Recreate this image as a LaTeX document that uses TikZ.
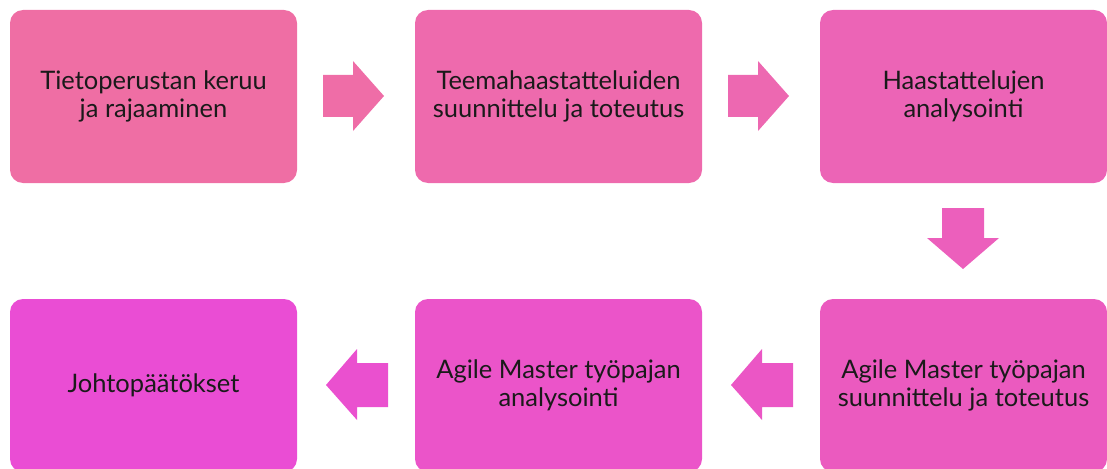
\documentclass[tikz,border=0pt]{standalone}
\usepackage{fontspec}
\setmainfont{Lato}
\definecolor{cA}{HTML}{EF6EA4}
\definecolor{cAa}{HTML}{EF6DA7}
\definecolor{cB}{HTML}{EE6AAD}
\definecolor{cBa}{HTML}{ED68B1}
\definecolor{cC}{HTML}{EC64B6}
\definecolor{cCa}{HTML}{EC5FBC}
\definecolor{cD}{HTML}{EB5ABF}
\definecolor{cDa}{HTML}{EB56C5}
\definecolor{cE}{HTML}{EB54C9}
\definecolor{cEa}{HTML}{EA50CF}
\definecolor{cF}{HTML}{EA4DD4}
\definecolor{txt}{HTML}{1A1A1A}
\tikzset{
  stagebox/.style={rounded corners=13pt, minimum width=287pt, minimum height=173pt,
    inner sep=0pt, align=center, text=txt, font=\fontsize{25.5}{28.5}\selectfont},
}
\begin{document}
\begin{tikzpicture}[x=1pt,y=-1pt]
\useasboundingbox (0,0) rectangle (1107,468);
\node[stagebox, fill=cA] (b1) at (153.5,96.5) {Tietoperustan keruu\\ja rajaaminen};
\node[stagebox, fill=cB] (b2) at (558.5,96.5) {Teemahaastatteluiden\\suunnittelu ja toteutus};
\node[stagebox, fill=cC] (b3) at (963.5,96.5) {Haastattelujen\\analysointi};
\node[stagebox, fill=cD] (b6) at (963.5,385.5) {Agile Master työpajan\\suunnittelu ja toteutus};
\node[stagebox, fill=cE] (b5) at (558.5,385.5) {Agile Master työpajan\\analysointi};
\node[stagebox, fill=cF] (b4) at (153.5,385.5) {Johtopäätökset};
% right arrows
\fill[cAa] (323,75) -- (353,75) -- (353,61) -- (384,96) -- (353,131) -- (353,117) -- (323,117) -- cycle;
\fill[cBa] (728,75) -- (758,75) -- (758,61) -- (789,96) -- (758,131) -- (758,117) -- (728,117) -- cycle;
% down arrow
\fill[cCa] (942,208) -- (984,208) -- (984,238) -- (999,238) -- (963,269) -- (927,238) -- (942,238) -- cycle;
% left arrows
\fill[cDa] (793,363) -- (762,363) -- (762,349) -- (731,385) -- (762,420) -- (762,407) -- (793,407) -- cycle;
\fill[cEa] (388,363) -- (357,363) -- (357,349) -- (326,385) -- (357,420) -- (357,407) -- (388,407) -- cycle;
\end{tikzpicture}
\end{document}
